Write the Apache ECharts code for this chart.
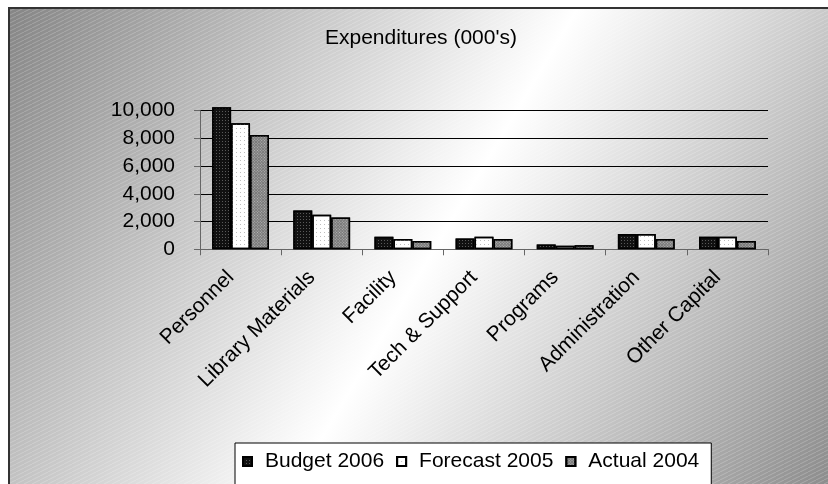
<!DOCTYPE html>
<html>
<head>
<meta charset="utf-8">
<script src="https://cdn.jsdelivr.net/npm/echarts@6/dist/echarts.min.js"></script>
<style>html,body{margin:0;padding:0;background:#fff;overflow:hidden;}#c{width:828px;height:484px;}</style>
</head>
<body>
<div id="c"></div>
<script>
var categories = ['Personnel', 'Library Materials', 'Facility', 'Tech & Support', 'Programs', 'Administration', 'Other Capital'];
var budget2006 = [10250, 2800, 900, 775, 350, 1100, 900];
var forecast2005 = [9100, 2500, 750, 900, 250, 1100, 900];
var actual2004 = [8250, 2300, 600, 750, 300, 750, 600];
var seriesNames = ['Budget 2006', 'Forecast 2005', 'Actual 2004'];

var FONT = "'Liberation Sans', Arial, sans-serif";

// hatch pattern canvas
var pc = document.createElement('canvas');
pc.width = 8; pc.height = 4;
var pctx = pc.getContext('2d');
pctx.strokeStyle = 'rgba(255,255,255,0.22)';
pctx.lineWidth = 1;
pctx.beginPath();
pctx.moveTo(-1, 4.5); pctx.lineTo(9, -0.5);
pctx.stroke();

var bgGrad = new echarts.graphic.LinearGradient(9, 8, 849, 508, [
  {offset: 0, color: '#858585'}, {offset: 0.5, color: '#ffffff'}, {offset: 1, color: '#858585'}
], true);

var chart = echarts.init(document.getElementById('c'), null, {renderer: 'canvas'});
var option = {
  animation: false,
  textStyle: {fontFamily: FONT},
  graphic: [
    {type: 'rect', z: -10, silent: true,
      shape: {x: 9, y: 8, width: 900, height: 560},
      style: {fill: bgGrad, stroke: '#333', lineWidth: 2}},
    {type: 'rect', z: -9, silent: true,
      shape: {x: 10, y: 9, width: 900, height: 560},
      style: {fill: {image: pc, repeat: 'repeat'}}}
  ],
  title: {
    text: "Expenditures (000's)", left: 325, top: 28, padding: 0,
    textStyle: {fontFamily: FONT, fontSize: 21, fontWeight: 'normal', color: '#000'}
  },
  legend: {
    left: 235, top: 443,
    padding: [8, 12, 40, 7],
    backgroundColor: '#fff', borderColor: '#000', borderWidth: 1,
    itemWidth: 9, itemHeight: 9, itemGap: 12, icon: 'rect',
    textStyle: {fontFamily: FONT, fontSize: 21, color: '#000', padding: [0, 0, 0, 8]},
    data: seriesNames
  },
  grid: {left: 200, right: 60, top: 110.7, bottom: 234.7, containLabel: false},
  xAxis: {
    type: 'category', data: categories,
    axisLine: {lineStyle: {color: '#666', width: 1}},
    axisTick: {show: true, length: 6, lineStyle: {color: '#666'}},
    axisLabel: {rotate: 45, margin: 15, fontFamily: FONT, fontSize: 21, color: '#000', interval: 0,
      padding: [0, 14, 0, 0]}
  },
  yAxis: {
    type: 'value', min: 0, max: 10000, interval: 2000,
    axisLine: {show: true, lineStyle: {color: '#666', width: 1}},
    axisTick: {show: true, length: 6, lineStyle: {color: '#666'}},
    splitLine: {lineStyle: {color: '#000', width: 1}},
    axisLabel: {margin: 25, fontFamily: FONT, fontSize: 21, color: '#000',
      formatter: function (v) { return v.toLocaleString('en-US'); }}
  },
  series: [
    {name: seriesNames[0], type: 'bar', data: budget2006, barGap: '0%', barCategoryGap: '30%', clip: false,
      itemStyle: {color: '#111', borderColor: '#000', borderWidth: 1.5,
        decal: {symbol: 'rect', symbolSize: 1, color: 'rgba(90,90,90,1)', dashArrayX: [1, 2], dashArrayY: [1, 2], rotation: 0}}},
    {name: seriesNames[1], type: 'bar', data: forecast2005, clip: false,
      itemStyle: {color: '#fff', borderColor: '#000', borderWidth: 1.5,
        decal: {symbol: 'rect', symbolSize: 1, color: 'rgba(190,190,190,1)', dashArrayX: [1, 3], dashArrayY: [1, 3], rotation: 0}}},
    {name: seriesNames[2], type: 'bar', data: actual2004, clip: false,
      itemStyle: {color: '#7a7a7a', borderColor: '#000', borderWidth: 1.5,
        decal: {symbol: 'rect', symbolSize: 1, color: 'rgba(200,200,200,0.8)', dashArrayX: [1, 1], dashArrayY: [1, 1], rotation: 0.785}}}
  ]
};
chart.setOption(option);
</script>
</body>
</html>
